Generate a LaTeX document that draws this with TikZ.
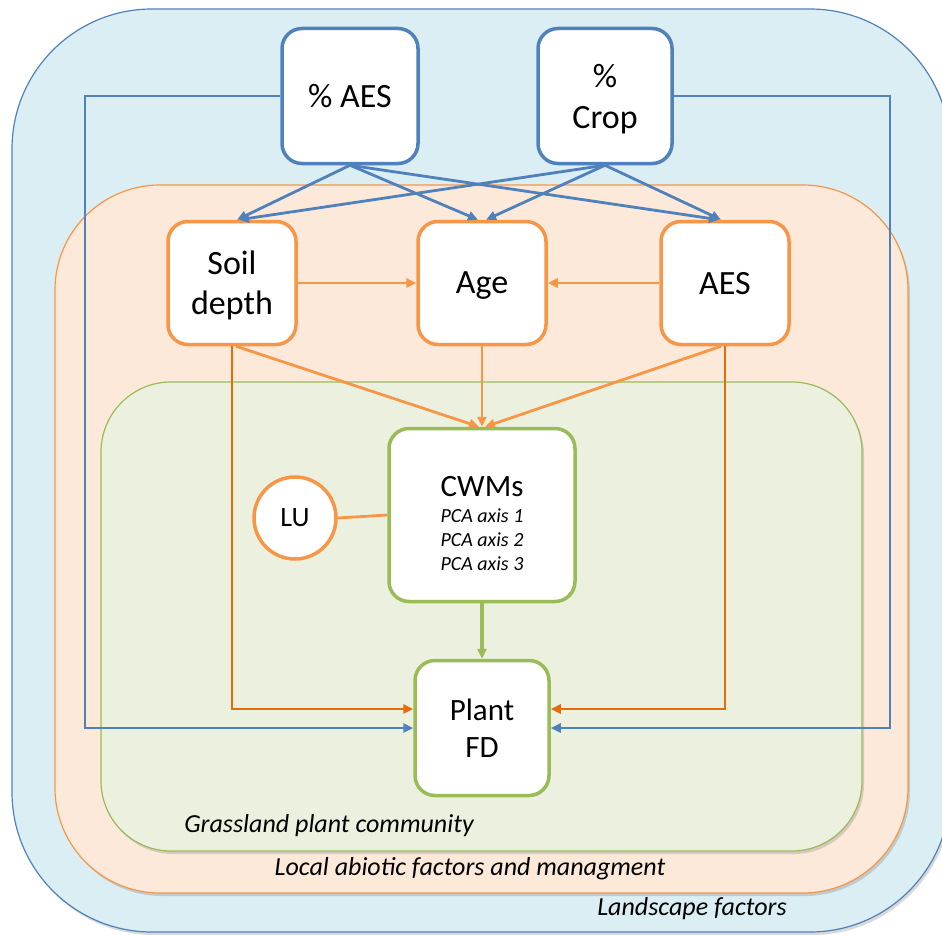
\documentclass[tikz,border=0pt]{standalone}
\usepackage{fontspec}
\setmainfont{Carlito}
\usetikzlibrary{arrows.meta,shadows}
\definecolor{ablue}{HTML}{4F81BD}
\definecolor{bluefill}{HTML}{DAEEF3}
\definecolor{aorange}{HTML}{F79646}
\definecolor{dorange}{HTML}{E46C0A}
\definecolor{orfill}{HTML}{FDE9D9}
\definecolor{agreen}{HTML}{9BBB59}
\definecolor{grfill}{HTML}{EBF1DE}
\begin{document}
\begin{tikzpicture}[x=1pt,y=-1pt,
  box/.style={draw, fill=white, line width=3.5pt, rounded corners=20pt, inner sep=0pt, align=center, text depth=0pt},
  bluebox/.style={box, draw=ablue, minimum width=136pt, minimum height=135pt, font=\fontsize{34}{41}\selectfont},
  orbox/.style={box, draw=aorange, minimum width=128pt, minimum height=123pt, font=\fontsize{34}{40}\selectfont},
  grbox/.style={box, draw=agreen},
  region/.style={line width=1.2pt, drop shadow={opacity=0.3, shadow xshift=2pt, shadow yshift=-3pt}},
  lbl/.style={font=\fontsize{26}{30}\selectfont\itshape},
  arr/.style={-{Triangle[length=10pt,width=9pt]}},
  bline/.style={draw=ablue, line width=2.8pt, arr},
  oline/.style={draw=aorange, line width=2.8pt, arr},
  dline/.style={draw=dorange, line width=2.8pt, arr}
]
\useasboundingbox (0,0) rectangle (942,934);
% regions
\path[region, draw=ablue, fill=bluefill, rounded corners=140pt] (12,9) rectangle (950,932);
\path[region, draw=aorange, fill=orfill, rounded corners=105pt] (55,185) rectangle (908,893);
\path[region, draw=agreen, fill=grfill, rounded corners=70pt] (101,382) rectangle (862,851);

% nodes
\node[bluebox, minimum width=136pt] (paes) at (350,96) {\% AES};
\node[bluebox, minimum width=134pt] (pcrop) at (605,96) {\%\\Crop};
\node[orbox] (soil) at (232,283) {Soil\\depth};
\node[orbox] (age) at (482,283) {Age};
\node[orbox] (aes) at (725,283) {AES};
\node[grbox, minimum width=186pt, minimum height=173pt] (cwm) at (482,515) {};
\node[align=center, font=\fontsize{20}{24}\selectfont\itshape] (cwmtext) at (482,524)
  {{\fontsize{31}{34}\selectfont\upshape CWMs}\\[2pt]PCA axis 1\\PCA axis 2\\PCA axis 3};
\node[draw=aorange, fill=white, line width=3.5pt, circle, minimum size=82pt, inner sep=0pt,
  font=\fontsize{28}{30}\selectfont] (lu) at (295,518) {LU};
\node[grbox, minimum width=134pt, minimum height=135pt, font=\fontsize{31}{37}\selectfont] (pfd) at (482,728) {Plant\\FD};

% named corners
\coordinate (bl) at (85,96);
\coordinate (br) at (890,96);

% blue connectors
\draw[bline] (paes.south) -- ([xshift=5pt]soil.north);
\draw[bline] (paes.south) -- ([xshift=-4pt]age.north);
\draw[bline] (paes.south) -- ([xshift=-6pt]aes.north);
\draw[bline] (pcrop.south) -- ([xshift=7pt]soil.north);
\draw[bline] (pcrop.south) -- ([xshift=4pt]age.north);
\draw[bline] (pcrop.south) -- ([xshift=-4pt]aes.north);
\draw[bline] (paes.west) -- (bl) |- (pfd.west);
\draw[bline] (pcrop.east) -- (br) |- (pfd.east);

% orange connectors
\draw[oline] (soil.east) -- (age.west);
\draw[oline] (aes.west) -- (age.east);
\draw[oline] ([xshift=4pt]soil.south) -- ([xshift=-3pt]cwm.north);
\draw[oline] (age.south) -- (cwm.north);
\draw[oline] ([xshift=-4pt]aes.south) -- ([xshift=3pt]cwm.north);
\draw[dline] (soil.south) |- ([yshift=19pt]pfd.west);
\draw[dline] (aes.south) |- ([yshift=19pt]pfd.east);
\draw[draw=aorange, line width=2.8pt] (lu.east) -- (cwm.west);

% green connector
\draw[draw=agreen, line width=3.2pt, arr] (cwm.south) -- (pfd.north);

% labels
\node[lbl] (lgrass) at (329,826) {Grassland plant community};
\node[lbl] (llocal) at (470,869) {Local abiotic factors and managment};
\node[lbl] (lland) at (692,909) {Landscape factors};
\end{tikzpicture}
\end{document}
